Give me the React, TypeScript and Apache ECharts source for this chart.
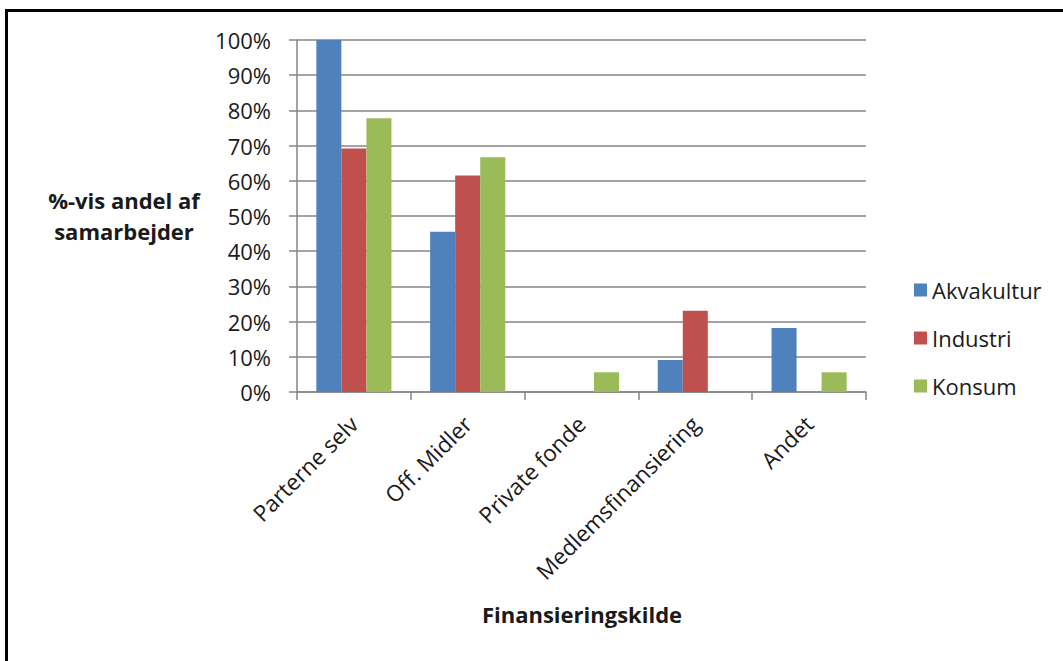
import React, { useEffect, useRef } from "react";
import * as echarts from "echarts";

const categories = ["Parterne selv", "Off. Midler", "Private fonde", "Medlemsfinansiering", "Andet"];
const akvakultur = [100, 45.5, 0, 9.1, 18.2];
const industri = [69.2, 61.5, 0, 23.1, 0];
const konsum = [77.8, 66.7, 5.6, 0, 5.6];
const seriesNames = ["Akvakultur", "Industri", "Konsum"];
const colors = ["#4F81BD", "#C0504D", "#9BBB59"];

const FONT = "'Open Sans', 'Liberation Sans', sans-serif";

export default function App() {
  const ref = useRef<HTMLDivElement>(null);
  useEffect(() => {
    const chart = echarts.init(ref.current!, undefined, { renderer: "svg" });
    const data = [akvakultur, industri, konsum];
    chart.setOption({
      animation: false,
      backgroundColor: "#ffffff",
      grid: { left: 297, top: 40, width: 569, height: 352, containLabel: false },
      legend: {
        orient: "vertical",
        left: 909,
        top: 274,
        itemWidth: 13,
        itemHeight: 13,
        itemGap: 26,
        icon: "rect",
        textStyle: { fontFamily: FONT, fontSize: 22, color: "#1a1a1a" },
        data: seriesNames,
      },
      xAxis: {
        type: "category",
        data: categories,
        axisLine: { lineStyle: { color: "#868686", width: 1.5 } },
        axisTick: { show: true, length: 8, alignWithLabel: false, lineStyle: { color: "#868686", width: 1.5 } },
        axisLabel: {
          rotate: 45,
          interval: 0,
          margin: 28,
          fontFamily: FONT,
          fontSize: 22.5,
          color: "#1a1a1a",
        },
      },
      yAxis: {
        type: "value",
        min: 0,
        max: 100,
        interval: 10,
        axisLine: { show: true, lineStyle: { color: "#868686", width: 1.5 } },
        axisTick: { show: true, length: 8, lineStyle: { color: "#868686", width: 1.5 } },
        splitLine: { lineStyle: { color: "#868686", width: 1.5 } },
        axisLabel: {
          formatter: "{value}%",
          margin: 26,
          fontFamily: FONT,
          fontSize: 22,
          color: "#1a1a1a",
        },
      },
      series: data.map((d, i) => ({
        name: seriesNames[i],
        type: "bar",
        data: d,
        barGap: "0%",
        barCategoryGap: "34%",
        itemStyle: { color: colors[i] },
      })),
      graphic: [
        {
          type: "text",
          x: 124,
          y: 184,
          style: {
            text: "%-vis andel af\nsamarbejder",
            font: `bold 22px ${FONT}`,
            fill: "#1a1a1a",
            align: "center",
            lineHeight: 31,
          },
        },
        {
          type: "text",
          x: 582,
          y: 603,
          style: {
            text: "Finansieringskilde",
            font: `bold 22px ${FONT}`,
            fill: "#1a1a1a",
            align: "center",
          },
        },
        {
          type: "line",
          shape: { x1: 5, y1: 10.5, x2: 1063, y2: 10.5 },
          style: { stroke: "#000", lineWidth: 3 },
        },
        {
          type: "line",
          shape: { x1: 6.5, y1: 9, x2: 6.5, y2: 661 },
          style: { stroke: "#000", lineWidth: 3 },
        },
      ],
    });
    return () => chart.dispose();
  }, []);
  return (
    <div
      ref={ref}
      style={{ position: "absolute", left: 0, top: 0, width: 1063, height: 661 }}
    />
  );
}
